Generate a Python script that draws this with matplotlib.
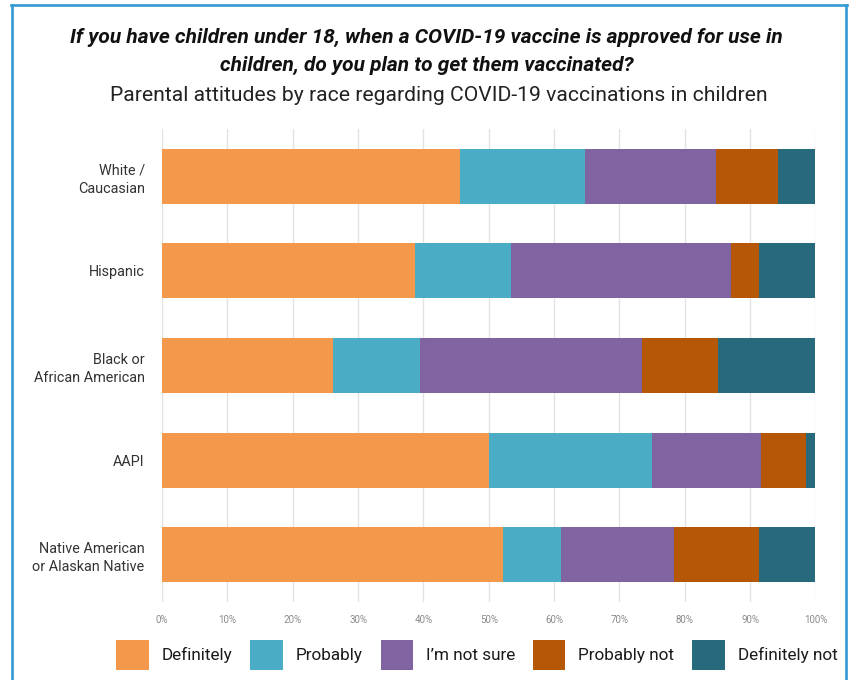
import matplotlib
matplotlib.use("Agg")
import matplotlib.pyplot as plt
from matplotlib.lines import Line2D
from matplotlib.ticker import PercentFormatter
import numpy as np

plt.rcParams['font.family'] = ['Roboto', 'DejaVu Sans']

groups = ['White /\nCaucasian', 'Hispanic', 'Black or\nAfrican American',
          'AAPI', 'Native American\nor Alaskan Native']
answers = ['Definitely', 'Probably', 'I\u2019m not sure', 'Probably not', 'Definitely not']

# share of parents per answer (%), one list per answer, in group order
definitely = [45.6, 38.7, 26.2, 50.1, 52.2]
probably = [19.2, 14.7, 13.2, 24.9, 8.8]
not_sure = [20.0, 33.6, 34.0, 16.7, 17.3]
probably_not = [9.5, 4.4, 11.7, 6.8, 13.1]
definitely_not = [5.7, 8.6, 14.9, 1.5, 8.6]

colors = ['#F4994B', '#4BACC6', '#8064A2', '#B65708', '#276A7C']
series = [definitely, probably, not_sure, probably_not, definitely_not]

fig = plt.figure(figsize=(8.53, 6.8), dpi=100)
ax = fig.add_axes([0.190, 0.1147, 0.766, 0.6956])

y = np.arange(len(groups))
left = np.zeros(len(groups))
for vals, name, c in zip(series, answers, colors):
    ax.barh(y, vals, left=left, height=0.58, color=c, label=name, zorder=2)
    left += np.array(vals)

ax.set_ylim(4.5, -0.5)
ax.set_xlim(0, 100)
ax.set_xticks(np.arange(0, 101, 10))
ax.xaxis.set_major_formatter(PercentFormatter(decimals=0))
ax.set_yticks(y)
ax.set_yticklabels(groups, fontsize=10.4, color='#333333', linespacing=1.35)
ax.tick_params(axis='y', length=0, pad=12.5)
ax.tick_params(axis='x', length=0, pad=9, labelsize=7, labelcolor='#8a8a8a')
ax.grid(axis='x', color='#e3e3e3', linewidth=1, zorder=0)
for s in ax.spines.values():
    s.set_visible(False)

fig.text(0.5, 0.924, 'If you have children under 18, when a COVID-19 vaccine is approved for use in\n'
         'children, do you plan to get them vaccinated?',
         ha='center', va='center', fontsize=15, fontweight='bold', fontstyle='italic',
         linespacing=1.62, color='#111111')
fig.text(0.515, 0.860, 'Parental attitudes by race regarding COVID-19 vaccinations in children',
         ha='center', va='center', fontsize=15.2, color='#222222')

fig.legend(loc='center', bbox_to_anchor=(0.559, 0.037), ncol=5, frameon=False,
           fontsize=12.3, handlelength=1.9, handleheight=2.3, handletextpad=0.75,
           columnspacing=1.05, labelcolor='#1a1a1a', borderpad=0)

# blue frame around the graphic
bc = '#3399D4'
fig.add_artist(Line2D([12.5 / 853, 12.5 / 853], [0, 1 - 5 / 680], color=bc, lw=1.9))
fig.add_artist(Line2D([846.5 / 853, 846.5 / 853], [0, 1 - 5 / 680], color=bc, lw=1.9))
fig.add_artist(Line2D([11.5 / 853, 847.5 / 853], [1 - 5 / 680, 1 - 5 / 680], color=bc, lw=1.9))

fig.savefig('out.png', dpi=100)
